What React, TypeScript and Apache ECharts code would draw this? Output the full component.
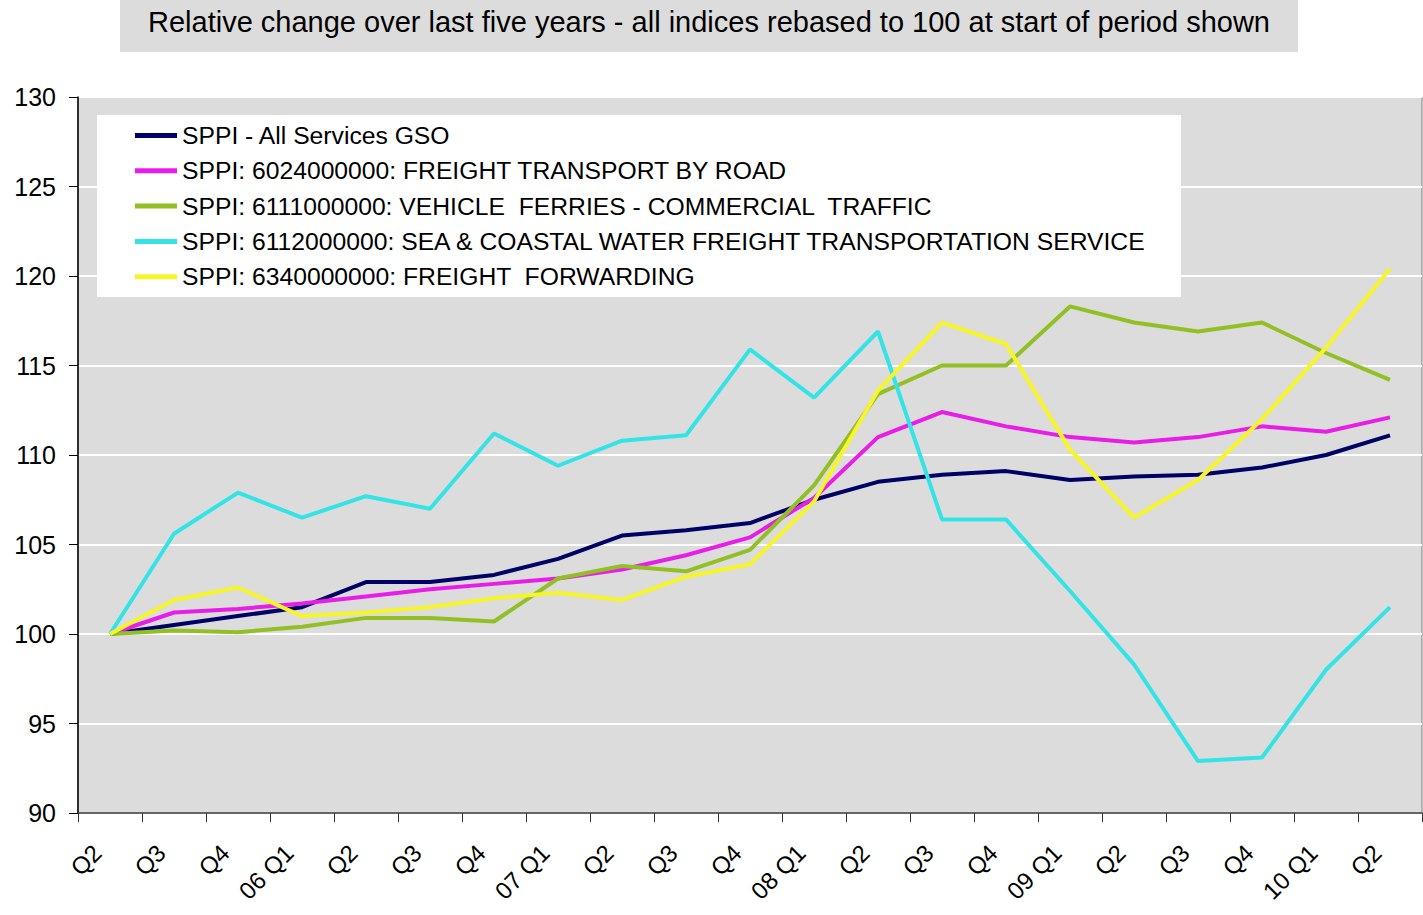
import React, { useEffect, useRef } from "react";
import * as echarts from "echarts";

const TITLE = "Relative change over last five years - all indices rebased to 100 at start of period shown";

const categories = [
  "Q2", "Q3", "Q4", "06 Q1", "Q2", "Q3", "Q4", "07 Q1", "Q2", "Q3", "Q4",
  "08 Q1", "Q2", "Q3", "Q4", "09 Q1", "Q2", "Q3", "Q4", "10 Q1", "Q2",
];

const allServices = [100, 100.5, 101.0, 101.5, 102.9, 102.9, 103.3, 104.2, 105.5, 105.8, 106.2, 107.5, 108.5, 108.9, 109.1, 108.6, 108.8, 108.9, 109.3, 110.0, 111.1];
const roadFreight = [100, 101.2, 101.4, 101.7, 102.1, 102.5, 102.8, 103.1, 103.6, 104.4, 105.4, 107.6, 111.0, 112.4, 111.6, 111.0, 110.7, 111.0, 111.6, 111.3, 112.1];
const vehicleFerries = [100, 100.2, 100.1, 100.4, 100.9, 100.9, 100.7, 103.1, 103.8, 103.5, 104.7, 108.3, 113.4, 115.0, 115.0, 118.3, 117.4, 116.9, 117.4, 115.7, 114.2];
const seaCoastal = [100, 105.6, 107.9, 106.5, 107.7, 107.0, 111.2, 109.4, 110.8, 111.1, 115.9, 113.2, 116.9, 106.4, 106.4, 102.4, 98.3, 92.9, 93.1, 98.0, 101.5];
const freightForwarding = [100, 101.9, 102.6, 101.0, 101.2, 101.5, 102.0, 102.3, 101.9, 103.2, 103.9, 107.4, 113.6, 117.4, 116.2, 110.3, 106.5, 108.6, 112.0, 116.0, 120.4];

const seriesNames = [
  "SPPI - All Services GSO",
  "SPPI: 6024000000: FREIGHT TRANSPORT BY ROAD",
  "SPPI: 6111000000: VEHICLE  FERRIES - COMMERCIAL  TRAFFIC",
  "SPPI: 6112000000: SEA & COASTAL WATER FREIGHT TRANSPORTATION SERVICE",
  "SPPI: 6340000000: FREIGHT  FORWARDING",
];
const seriesData = [allServices, roadFreight, vehicleFerries, seaCoastal, freightForwarding];
const seriesColors = ["#000066", "#e81ee8", "#92bf24", "#33e3e6", "#f5f52a"];

const yTicks = { min: 90, max: 130, interval: 5 };

const FONT = "'Liberation Sans', Arial, Helvetica, sans-serif";

export default function App() {
  const ref = useRef<HTMLDivElement>(null);
  useEffect(() => {
    if (!ref.current) return;
    const chart = echarts.init(ref.current, undefined, { renderer: "svg" });
    chart.setOption({
      animation: false,
      backgroundColor: "#ffffff",
      textStyle: { fontFamily: FONT },
      title: {
        text: TITLE,
        left: 709,
        textAlign: "center",
        top: 7,
        padding: 0,
        textStyle: { fontSize: 29, fontWeight: "normal", color: "#000", fontFamily: FONT },
      },
      graphic: [
        { type: "rect", z: -10, shape: { x: 120, y: 0, width: 1178, height: 52 }, style: { fill: "#dcdcdc" } },
        { type: "rect", z: 3, shape: { x: 97, y: 115, width: 1084, height: 182 }, style: { fill: "#ffffff" } },
      ],
      legend: {
        orient: "vertical",
        left: 135,
        top: 123,
        padding: 0,
        itemGap: 10.3,
        itemWidth: 42,
        itemHeight: 5,
        icon: "rect",
        z: 5,
        textStyle: { fontSize: 24.7, color: "#000", fontFamily: FONT, lineHeight: 25 },
        data: seriesNames,
      },
      grid: {
        left: 78,
        top: 97,
        right: 1,
        bottom: 102,
        show: true,
        backgroundColor: "#dcdcdc",
        borderColor: "#808080",
        borderWidth: 1,
      },
      xAxis: {
        type: "category",
        data: categories,
        boundaryGap: true,
        axisLine: { lineStyle: { color: "#333", width: 1.5 } },
        axisTick: { show: true, length: 9, lineStyle: { color: "#333" } },
        axisLabel: {
          rotate: 45,
          margin: 23,
          padding: [0, 18, 0, 0],
          fontSize: 24,
          color: "#000",
          fontFamily: FONT,
          interval: 0,
        },
        splitLine: { show: false },
      },
      yAxis: {
        type: "value",
        min: yTicks.min,
        max: yTicks.max,
        interval: yTicks.interval,
        axisLine: { show: true, lineStyle: { color: "#000", width: 1.5 } },
        axisTick: { show: true, length: 9, lineStyle: { color: "#000" } },
        axisLabel: { margin: 22, fontSize: 25, color: "#000", fontFamily: FONT },
        splitLine: { show: true, lineStyle: { color: "#ffffff", width: 2 } },
      },
      series: seriesNames.map((name, i) => ({
        name,
        type: "line",
        data: seriesData[i],
        symbol: "none",
        color: seriesColors[i],
        lineStyle: { color: seriesColors[i], width: 4 },
        z: 2,
      })),
    });
    return () => chart.dispose();
  }, []);
  return <div ref={ref} style={{ position: "absolute", left: 0, top: 0, width: 1423, height: 915 }} />;
}
